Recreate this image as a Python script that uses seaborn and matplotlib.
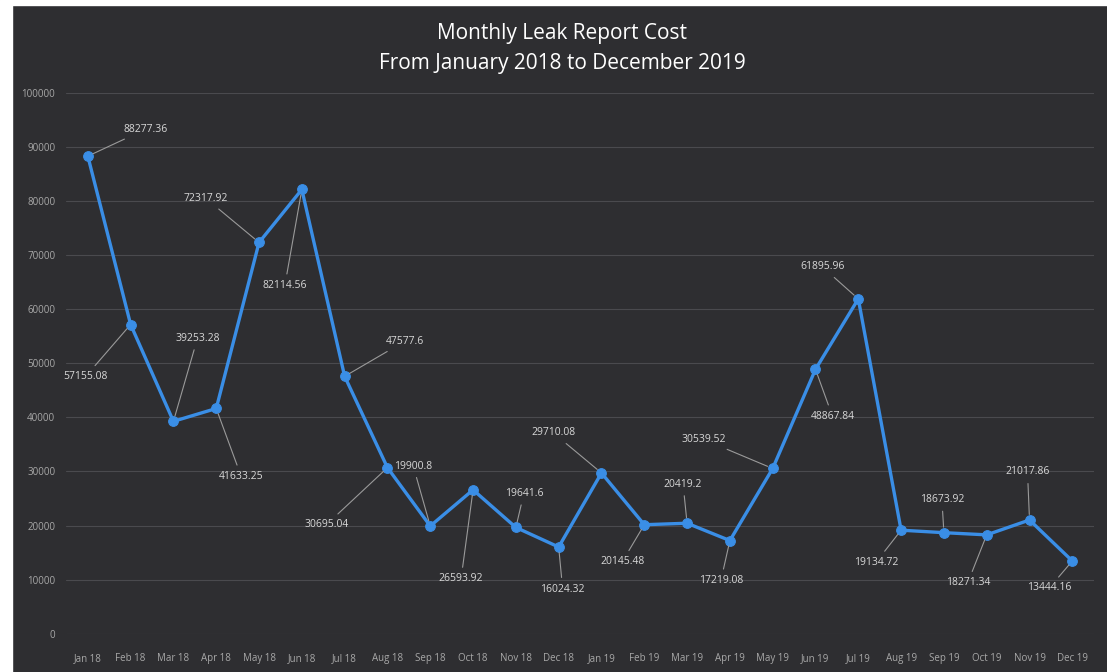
import pandas as pd
import seaborn as sns
import matplotlib.pyplot as plt
from matplotlib.patches import Rectangle

# ---------------------------------------------------------
# DADES
# ---------------------------------------------------------
mesos = ['Jan 18', 'Feb 18', 'Mar 18', 'Apr 18', 'May 18', 'Jun 18',
         'Jul 18', 'Aug 18', 'Sep 18', 'Oct 18', 'Nov 18', 'Dec 18',
         'Jan 19', 'Feb 19', 'Mar 19', 'Apr 19', 'May 19', 'Jun 19',
         'Jul 19', 'Aug 19', 'Sep 19', 'Oct 19', 'Nov 19', 'Dec 19']
cost = [88277.36, 57155.08, 39253.28, 41633.25, 72317.92, 82114.56,
        47577.6, 30695.04, 19900.8, 26593.92, 19641.6, 16024.32,
        29710.08, 20145.48, 20419.2, 17219.08, 30539.52, 48867.84,
        61895.96, 19134.72, 18673.92, 18271.34, 21017.86, 13444.16]
y_ticks = [0, 10000, 20000, 30000, 40000, 50000, 60000, 70000, 80000, 90000, 100000]

# posicio de cada etiqueta respecte al punt (pixels)
offsets = [(58, 27), (-45, -52), (24, 83), (25, -68), (-53, 44), (-17, -96),
           (60, 35), (-61, -57), (-17, 60), (-12, -89), (8, 34), (4, -42),
           (-48, 40), (-22, -37), (-4, 39), (-9, -40), (-69, 29), (17, -47),
           (-36, 32), (-25, -32), (-2, 33), (-19, -48), (-2, 48), (-23, -27)]

BG = '#2e2e31'
BLAU = '#3a8ee6'

sns.set_style("dark")
plt.rcParams['font.family'] = ['Open Sans', 'DejaVu Sans']

df = pd.DataFrame({'MES': mesos, 'COST': cost})

fig = plt.figure(figsize=(11.07, 6.72), dpi=100, facecolor=BG)
ax = fig.add_axes([0.060, 0.057, 0.928, 0.805])
ax.set_facecolor(BG)

ax.set_ylim(0, 100000)
ax.set_xlim(-0.5, len(mesos) - 0.5)
ax.set_yticks(y_ticks)
ax.yaxis.grid(True, color='#4a4a4e', linewidth=0.8)
ax.xaxis.grid(False)
ax.set_axisbelow(True)

sns.lineplot(data=df, x='MES', y='COST', ax=ax, color=BLAU, linewidth=2.4,
             marker='o', markersize=7, markeredgecolor=BLAU, sort=False)

for i, (v, off) in enumerate(zip(cost, offsets)):
    etiqueta = f"{v:.2f}".rstrip('0').rstrip('.')
    ax.annotate(etiqueta, xy=(i, v), xytext=off, textcoords='offset pixels',
                ha='center', va='center', fontsize=7.5, color='#d8d8d8',
                arrowprops=dict(arrowstyle='-', color='#9a9a9a', lw=0.8,
                                shrinkA=2, shrinkB=4))

ax.tick_params(axis='both', length=0, colors='#a8a8a8', labelsize=7)
ax.tick_params(axis='x', pad=14)
ax.tick_params(axis='y', pad=8)
ax.set_xlabel('')
ax.set_ylabel('')
for s in ax.spines.values():
    s.set_visible(False)

fig.text(0.508, 0.950, 'Monthly Leak Report Cost', ha='center', va='center',
         color='white', fontsize=15)
fig.text(0.508, 0.905, 'From January 2018 to December 2019', ha='center', va='center',
         color='white', fontsize=15)

# vora blanca de la foto
fig.add_artist(Rectangle((0, 0), 0.011, 1, transform=fig.transFigure, color='white', zorder=10))
fig.add_artist(Rectangle((0, 0.993), 1, 0.007, transform=fig.transFigure, color='white', zorder=10))

plt.savefig('out.png', dpi=100, facecolor=BG)
plt.close()
